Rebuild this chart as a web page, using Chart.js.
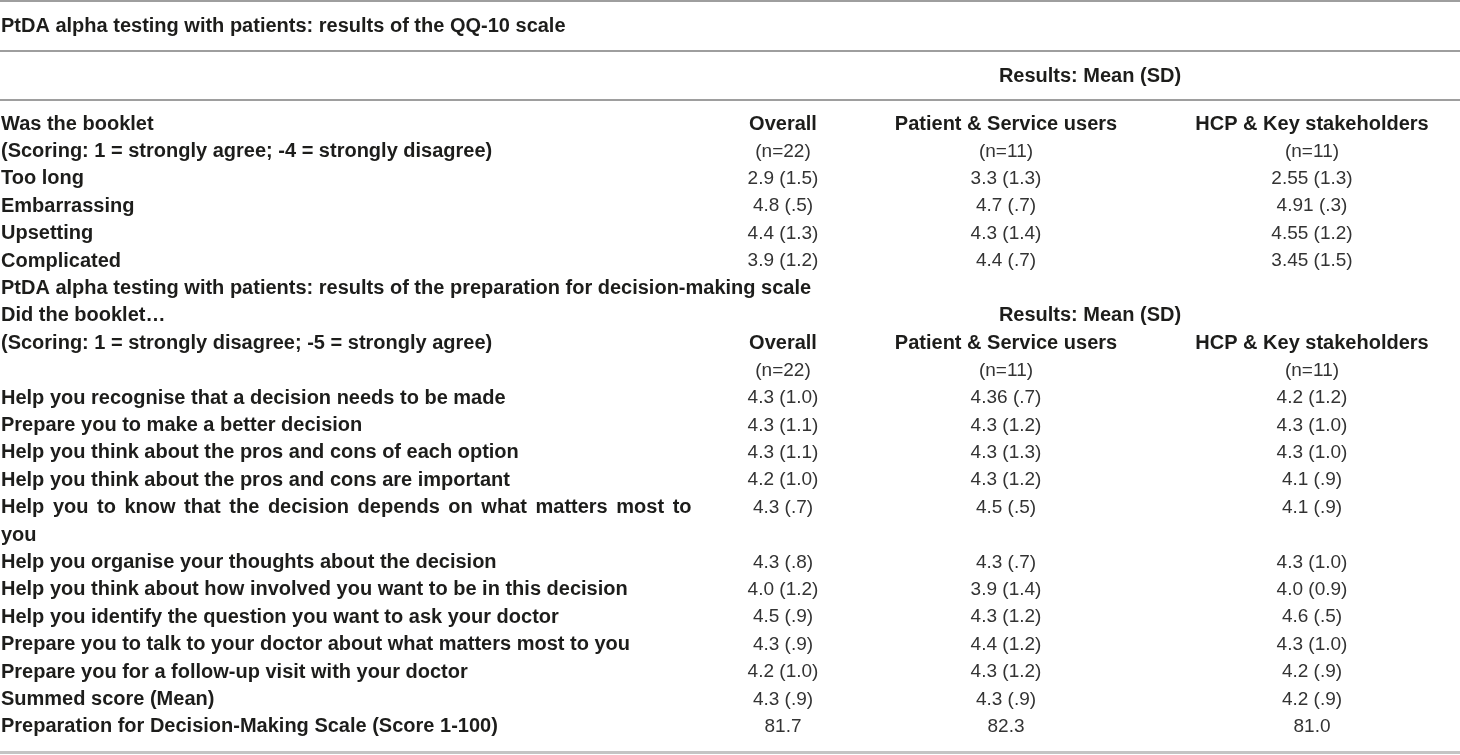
<!DOCTYPE html>
<html>
<head>
<meta charset="utf-8">
<title>PtDA alpha testing</title>
<script src="https://cdn.jsdelivr.net/npm/chart.js@4.4.1/dist/chart.umd.min.js"></script>
<style>
  html, body { margin: 0; padding: 0; background: #fff; }
  canvas { display: block; }
</style>
</head>
<body>
<canvas id="tabelle" width="1460" height="755"></canvas>
<script>
// --- data ---
const tableTitle = 'PtDA alpha testing with patients: results of the QQ-10 scale';
const spanHeader = 'Results: Mean (SD)';

const rowLabels = [
  'Was the booklet',
  '(Scoring: 1 = strongly agree; -4 = strongly disagree)',
  'Too long',
  'Embarrassing',
  'Upsetting',
  'Complicated',
  'PtDA alpha testing with patients: results of the preparation for decision-making scale',
  'Did the booklet\u2026',
  '(Scoring: 1 = strongly disagree; -5 = strongly agree)',
  '',
  'Help you recognise that a decision needs to be made',
  'Prepare you to make a better decision',
  'Help you think about the pros and cons of each option',
  'Help you think about the pros and cons are important',
  'Help you to know that the decision depends on what matters most to',
  'you',
  'Help you organise your thoughts about the decision',
  'Help you think about how involved you want to be in this decision',
  'Help you identify the question you want to ask your doctor',
  'Prepare you to talk to your doctor about what matters most to you',
  'Prepare you for a follow-up visit with your doctor',
  'Summed score (Mean)',
  'Preparation for Decision-Making Scale (Score 1-100)'
];

const overall = [
  'Overall', '(n=22)', '2.9 (1.5)', '4.8 (.5)', '4.4 (1.3)', '3.9 (1.2)', '', '',
  'Overall', '(n=22)', '4.3 (1.0)', '4.3 (1.1)', '4.3 (1.1)', '4.2 (1.0)', '4.3 (.7)', '',
  '4.3 (.8)', '4.0 (1.2)', '4.5 (.9)', '4.3 (.9)', '4.2 (1.0)', '4.3 (.9)', '81.7'
];
const patients = [
  'Patient & Service users', '(n=11)', '3.3 (1.3)', '4.7 (.7)', '4.3 (1.4)', '4.4 (.7)', '', '',
  'Patient & Service users', '(n=11)', '4.36 (.7)', '4.3 (1.2)', '4.3 (1.3)', '4.3 (1.2)', '4.5 (.5)', '',
  '4.3 (.7)', '3.9 (1.4)', '4.3 (1.2)', '4.4 (1.2)', '4.3 (1.2)', '4.3 (.9)', '82.3'
];
const hcp = [
  'HCP & Key stakeholders', '(n=11)', '2.55 (1.3)', '4.91 (.3)', '4.55 (1.2)', '3.45 (1.5)', '', '',
  'HCP & Key stakeholders', '(n=11)', '4.2 (1.2)', '4.3 (1.0)', '4.3 (1.0)', '4.1 (.9)', '4.1 (.9)', '',
  '4.3 (1.0)', '4.0 (0.9)', '4.6 (.5)', '4.3 (1.0)', '4.2 (.9)', '4.2 (.9)', '81.0'
];

const headerRows = [0, 8];   // column headings in bold
const spanRows = [7];        // rows carrying the spanning header
const justifiedRows = [14];  // wrapped label, justified in the original

// --- layout ---
const colCenters = [783, 1006, 1312];
const spanCenter = 1090;
const boldFont = "bold 20px 'Liberation Sans', Arial, sans-serif";
const lightFont = "19px 'Liberation Sans', Arial, sans-serif";
const darkInk = '#1d1d1b';
const lightInk = '#333333';

const tabellenText = {
  id: 'tabellenText',
  beforeDraw(chart) {
    const ctx = chart.ctx;
    const area = chart.chartArea;
    ctx.save();
    ctx.strokeStyle = '#9e9e9e';
    ctx.lineWidth = 2;
    [1, 51, 100].forEach(y => {
      ctx.beginPath(); ctx.moveTo(0, y); ctx.lineTo(chart.width, y); ctx.stroke();
    });
    ctx.strokeStyle = '#c4c4c4';
    ctx.lineWidth = 3;
    ctx.beginPath(); ctx.moveTo(0, area.bottom + 12); ctx.lineTo(chart.width, area.bottom + 12); ctx.stroke();

    ctx.textBaseline = 'middle';
    ctx.fillStyle = darkInk;
    ctx.font = boldFont;
    ctx.textAlign = 'left';
    ctx.fillText(tableTitle, area.left + 1, 26);
    ctx.textAlign = 'center';
    ctx.fillText(spanHeader, spanCenter, 76);
    ctx.restore();
  },
  afterDatasetsDraw(chart) {
    const ctx = chart.ctx;
    const yScale = chart.scales.y;
    ctx.save();
    ctx.textBaseline = 'middle';
    ctx.font = boldFont;
    ctx.fillStyle = darkInk;
    ctx.textAlign = 'left';
    rowLabels.forEach((t, k) => {
      if (!t) return;
      ctx.wordSpacing = justifiedRows.includes(k) ? '3px' : '0px';
      ctx.fillText(t, chart.chartArea.left + 1, yScale.getPixelForValue(k));
    });
    ctx.wordSpacing = '0px';
    ctx.textAlign = 'center';
    spanRows.forEach(k => ctx.fillText(spanHeader, spanCenter, yScale.getPixelForValue(k)));

    chart.data.datasets.forEach((ds, c) => {
      chart.getDatasetMeta(c).data.forEach((pt, k) => {
        const txt = ds.texts[k];
        if (!txt) return;
        const head = headerRows.includes(k);
        ctx.font = head ? boldFont : lightFont;
        ctx.fillStyle = head ? darkInk : lightInk;
        ctx.fillText(txt, pt.x, pt.y);
      });
    });
    ctx.restore();
  }
};

const spalten = [overall, patients, hcp];

new Chart(document.getElementById('tabelle'), {
  type: 'scatter',
  data: {
    datasets: spalten.map((werte, c) => ({
      label: werte[0],
      texts: werte,
      data: werte.map((w, k) => ({ x: colCenters[c], y: k })),
      pointRadius: 0,
      pointHoverRadius: 0
    }))
  },
  options: {
    responsive: false,
    animation: false,
    devicePixelRatio: 1,
    events: [],
    layout: { padding: { top: 110.3, bottom: 14.5, left: 0, right: 0 } },
    scales: {
      x: { type: 'linear', min: 0, max: 1460, display: false },
      y: { type: 'category', labels: rowLabels.map((t, k) => String(k)), offset: true, display: false }
    },
    plugins: {
      legend: { display: false },
      tooltip: { enabled: false }
    }
  },
  plugins: [tabellenText]
});
</script>
</body>
</html>
